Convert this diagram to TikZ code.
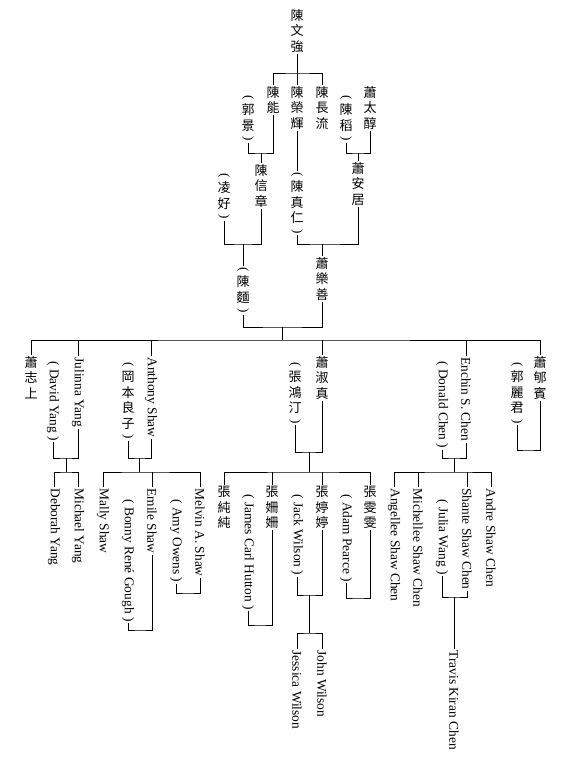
\documentclass[tikz,border=0pt]{standalone}
\usepackage{graphicx}
\usepackage{fontspec}
\setmainfont{Liberation Serif}
\newfontfamily\cjk{Noto Sans CJK TC}
\tikzset{
  zh/.style={anchor=north, inner sep=1pt, align=center,
    font=\cjk\fontsize{13}{15.5}\selectfont},
  en/.style={anchor=west, rotate=-90, inner sep=1pt,
    font=\fontsize{13.4}{15}\selectfont}
}
% vertical parentheses round a stack of characters
\newcommand{\vpar}[1]{\rotatebox{-90}{\rmfamily(}\\[4pt]#1\\[-9pt]\rotatebox{-90}{\rmfamily)}}
\begin{document}
\begin{tikzpicture}[x=1pt, y=-1pt, line width=0.9pt]
  \useasboundingbox (0,0) rectangle (569,763);
  % first generations
  \node[zh] (wenqiang) at (297,8) {陳\\文\\強};
  \node[zh] (neng) at (273,85) {陳\\能};
  \node[zh] (rongrui) at (297,85) {陳\\榮\\輝};
  \node[zh] (changliu) at (322,85) {陳\\長\\流};
  \node[zh] (guojing) at (248,94) {\vpar{郭\\景}};
  \node[zh] (chendao) at (346,94) {\vpar{陳\\稻}};
  \node[zh] (taichun) at (370,85) {蕭\\太\\醇};
  \node[zh] (xinzhang) at (261,163) {陳\\信\\章};
  \node[zh] (lingyu) at (224,172) {\vpar{凌\\好}};
  \node[zh] (zhenren) at (297,171) {\vpar{陳\\真\\仁}};
  \node[zh] (anju) at (358,161) {蕭\\安\\居};
  \node[zh] (chenmian) at (243,266) {\vpar{陳\\麵}};
  \node[zh] (leshan) at (322,256) {蕭\\樂\\善};
  \coordinate (b0) at (297,73);
  \coordinate (j0) at (261,153);
  \coordinate (j2) at (358,153);
  \coordinate (j1) at (243,244);
  \coordinate (j3) at (322,244);
  \coordinate (j4) at (282,327);
  \coordinate (b1) at (282,340);
  \draw (wenqiang.south) -- (b0);
  \draw (neng.north) |- (b0) -| (changliu.north);
  \draw (rongrui.north) -- (b0);
  \draw (guojing.south) |- (j0) -| (neng.south);
  \draw (j0) -- (xinzhang.north);
  \draw (chendao.south) |- (j2) -| (taichun.south);
  \draw (j2) -- (anju.north);
  \draw (lingyu.south) |- (j1) -| (xinzhang.south);
  \draw (j1) -- (chenmian.north);
  \draw (rongrui.south) -- (zhenren.north);
  \draw (zhenren.south) |- (j3) -| (anju.south);
  \draw (j3) -- (leshan.north);
  \draw (chenmian.south) |- (j4) -| (leshan.south);
  \draw (j4) -- (b1);
  % third generation
  \node[zh] (zhishang) at (31,355) {蕭\\志\\上};
  \node[en] (julinna) at (78,356) {Julinna Yang};
  \node[en] (david) at (53,360) {( David Yang )};
  \node[en] (anthony) at (151,356) {Anthony Shaw};
  \node[zh] (okamoto) at (128,361) {\vpar{岡\\本\\良\\子}};
  \node[zh] (shuzhen) at (322,355) {蕭\\淑\\真};
  \node[zh] (hongting) at (295,361) {\vpar{張\\鴻\\汀}};
  \node[en] (enchin) at (466,356) {Enchin S. Chen};
  \node[en] (donald) at (442,360) {( Donald Chen )};
  \node[zh] (xunbin) at (540,355) {蕭\\郇\\賓};
  \node[zh] (liju) at (517,361) {\vpar{郭\\麗\\君}};
  \draw (zhishang.north) |- (b1) -| (xunbin.north);
  \draw (julinna.west) -- (julinna.west |- b1);
  \draw (anthony.west) -- (anthony.west |- b1);
  \draw (shuzhen.north) -- (shuzhen.north |- b1);
  \draw (enchin.west) -- (enchin.west |- b1);
  \coordinate (j5) at (66,458);
  \coordinate (j6) at (139.5,458);
  \coordinate (j9) at (309,452);
  \coordinate (j13) at (454,458);
  \coordinate (j15) at (528,450);
  \draw (david.east) |- (j5) -| (julinna.east);
  \draw (okamoto.south) |- (j6) -| (anthony.east);
  \draw (hongting.south) |- (j9) -| (shuzhen.south);
  \draw (donald.east) |- (j13) -| (enchin.east);
  \draw (liju.south) |- (j15) -| (xunbin.south);
  % fourth generation
  \node[en] (deborah) at (54,487) {Deborah Yang};
  \node[en] (michael) at (78,487) {Michael Yang};
  \node[en] (mally) at (103,487) {Mally Shaw};
  \node[en] (emile) at (152,487) {Emile Shaw};
  \node[en] (bonny) at (128,498) {( Bonny René Gough )};
  \node[en] (melvin) at (200,487) {Melvin A. Shaw};
  \node[en] (amy) at (176,498) {( Amy Owens )};
  \node[zh] (chunchun) at (224,485) {張\\純\\純};
  \node[zh] (shanshan) at (272,485) {張\\姍\\姍};
  \node[en] (hutton) at (248,493) {( James Carl Hutton )};
  \node[zh] (tingting) at (322,485) {張\\婷\\婷};
  \node[en] (jack) at (297,493) {( Jack Wilson )};
  \node[zh] (wenwen) at (370,485) {張\\雯\\雯};
  \node[en] (pearce) at (346,493) {( Adam Pearce )};
  \node[en] (angellee) at (394,487) {Angellee Shaw Chen};
  \node[en] (michellee) at (418,487) {Michellee Shaw Chen};
  \node[en] (shante) at (467,487) {Shante Shaw Chen};
  \node[en] (julia) at (442,498) {( Julia Wang )};
  \node[en] (andre) at (491,487) {Andre Shaw Chen};
  \coordinate (b2) at (66,472);
  \coordinate (b3) at (139.5,472);
  \coordinate (b4) at (309,472);
  \coordinate (b6) at (454,472);
  \draw (j5) -- (b2);
  \draw (deborah.west) |- (b2) -| (michael.west);
  \draw (j6) -- (b3);
  \draw (mally.west) |- (b3) -| (melvin.west);
  \draw (emile.west) -- (emile.west |- b3);
  \draw (j9) -- (b4);
  \draw (chunchun.north) |- (b4) -| (wenwen.north);
  \draw (shanshan.north) -- (shanshan.north |- b4);
  \draw (tingting.north) -- (tingting.north |- b4);
  \draw (j13) -- (b6);
  \draw (angellee.west) |- (b6) -| (andre.west);
  \draw (michellee.west) -- (michellee.west |- b6);
  \draw (shante.west) -- (shante.west |- b6);
  \coordinate (j7) at (140,630);
  \coordinate (j8) at (188,593);
  \coordinate (j10) at (260,625);
  \coordinate (j11) at (309,595);
  \coordinate (j12) at (358,598);
  \coordinate (j14) at (454,597);
  \draw (bonny.east) |- (j7) -| (emile.east);
  \draw (amy.east) |- (j8) -| (melvin.east);
  \draw (hutton.east) |- (j10) -| (shanshan.south);
  \draw (jack.east) |- (j11) -| (tingting.south);
  \draw (pearce.east) |- (j12) -| (wenwen.south);
  \draw (julia.east) |- (j14) -| (shante.east);
  % fifth generation
  \node[en] (jessica) at (297,649) {Jessica Wilson};
  \node[en] (john) at (322,649) {John Wilson};
  \node[en] (travis) at (454,649) {Travis Kiran Chen};
  \coordinate (b5) at (309,633);
  \draw (j11) -- (b5);
  \draw (jessica.west) |- (b5) -| (john.west);
  \draw (j14) -- (travis.west);
\end{tikzpicture}
\end{document}
